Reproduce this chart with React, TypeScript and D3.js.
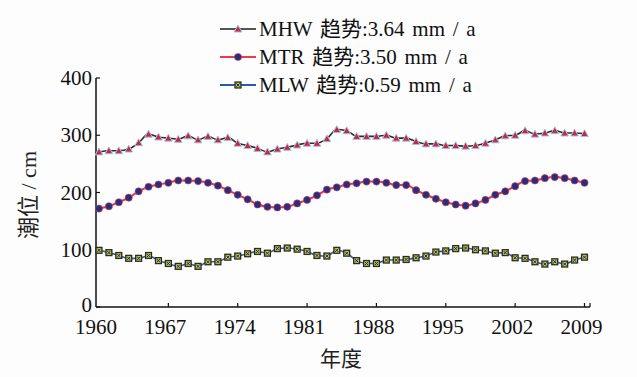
import React from "react";
import * as d3 from "d3";

const years: number[] = d3.range(1960, 2010);

const mhw: number[] = [
  271, 273, 273, 276, 287, 302, 297, 295, 293, 299,
  292, 298, 292, 296, 286, 282, 277, 271, 276, 279,
  283, 286, 286, 294, 310, 308, 298, 298, 298, 300,
  295, 295, 289, 285, 285, 282, 282, 281, 282, 286,
  292, 299, 300, 308, 302, 304, 308, 304, 304, 303,
];

const mtr: number[] = [
  172, 176, 183, 191, 202, 210, 214, 217, 221, 221,
  220, 217, 212, 204, 196, 188, 179, 175, 174, 175,
  181, 187, 195, 205, 209, 214, 216, 219, 219, 217,
  213, 213, 204, 196, 189, 183, 179, 177, 181, 187,
  196, 202, 211, 220, 221, 225, 227, 225, 221, 217,
];

const mlw: number[] = [
  99, 95, 90, 85, 85, 90, 81, 76, 71, 76,
  71, 79, 79, 87, 89, 93, 97, 94, 102, 103,
  101, 97, 90, 89, 99, 94, 81, 76, 76, 82,
  82, 83, 86, 89, 96, 98, 102, 103, 100, 98,
  94, 95, 86, 85, 79, 75, 79, 75, 82, 87,
];

const xTicks: number[] = [1960, 1967, 1974, 1981, 1988, 1995, 2002, 2009];
const yTicks: number[] = [0, 100, 200, 300, 400];

const legendLabels: string[] = [
  "MHW 趋势:3.64 mm / a",
  "MTR 趋势:3.50 mm / a",
  "MLW 趋势:0.59 mm / a",
];

const FONT = "'Liberation Serif', 'Times New Roman', 'Noto Sans CJK SC', serif";

const x = d3.scaleLinear().domain([1960, 2009]).range([99, 584.5]);
const y = d3.scaleLinear().domain([0, 400]).range([307, 78]);

const AX_LEFT = 96;
const AX_RIGHT = 590;

function Triangle({ cx, cy }: { cx: number; cy: number }) {
  const s = 3.8;
  return (
    <path
      d={`M${cx},${cy - s} L${cx + s},${cy + s * 0.8} L${cx - s},${cy + s * 0.8} Z`}
      fill="#c8283c"
      stroke="#9ec3e8"
      strokeWidth={1}
    />
  );
}

function Dot({ cx, cy }: { cx: number; cy: number }) {
  return <circle cx={cx} cy={cy} r={3.6} fill="#26307a" stroke="#d84060" strokeWidth={0.6} />;
}

function Square({ cx, cy }: { cx: number; cy: number }) {
  const s = 3.6;
  return (
    <g>
      <rect x={cx - s} y={cy - s} width={2 * s} height={2 * s} fill="#2b2b1e" />
      <rect x={cx - s + 1.3} y={cy - s + 1.3} width={2 * s - 2.6} height={2 * s - 2.6} fill="#b9c46a" />
      <path
        d={`M${cx - 1.6},${cy - 1.6} L${cx + 1.6},${cy + 1.6} M${cx + 1.6},${cy - 1.6} L${cx - 1.6},${cy + 1.6}`}
        stroke="#2b2b1e"
        strokeWidth={1}
      />
    </g>
  );
}

export default function App() {
  const line = d3
    .line<number>()
    .x((_, i) => x(years[i]))
    .y((d) => y(d))
    .curve(d3.curveMonotoneX);

  const series = [
    { data: mhw, color: "#2d2d2d", width: 1.6, Marker: Triangle, legendColor: "#555555" },
    { data: mtr, color: "#ff2a3a", width: 2, Marker: Dot, legendColor: "#f03848" },
    { data: mlw, color: "#2c5aa8", width: 1.6, Marker: Square, legendColor: "#2c5aa8" },
  ];

  const legendY = [29, 57, 85];

  return (
    <svg
      width={637}
      height={377}
      style={{ position: "absolute", left: 0, top: 0, background: "#fdfdfd" }}
      fontFamily={FONT}
    >
      <rect x={0} y={0} width={637} height={377} fill="#fdfdfd" />

      {/* Legend */}
      {series.map((s, i) => (
        <g key={i}>
          <line x1={220} x2={256} y1={legendY[i]} y2={legendY[i]} stroke={s.legendColor} strokeWidth={2} />
          <s.Marker cx={238} cy={legendY[i]} />
          <text x={259} y={legendY[i] + 7} fontSize={21} wordSpacing={2.5} fill="#111">
            {legendLabels[i]}
          </text>
        </g>
      ))}

      {/* Axes */}
      <line x1={AX_LEFT} x2={AX_LEFT} y1={y(400)} y2={y(0)} stroke="#111" strokeWidth={1.5} />
      <line x1={AX_LEFT} x2={AX_RIGHT} y1={y(0)} y2={y(0)} stroke="#111" strokeWidth={1.5} />
      {yTicks.map((t) => (
        <g key={t}>
          <line x1={AX_LEFT} x2={AX_LEFT + 4} y1={y(t)} y2={y(t)} stroke="#111" strokeWidth={1.2} />
          <text x={AX_LEFT - 4} y={y(t) + (t === 0 ? 5 : 7)} textAnchor="end" fontSize={21} fill="#111">
            {t}
          </text>
        </g>
      ))}
      {xTicks.map((t) => (
        <g key={t}>
          {t !== 1960 && (
            <line x1={x(t)} x2={x(t)} y1={y(0)} y2={y(0) - 4} stroke="#111" strokeWidth={1.2} />
          )}
          <text x={x(t) - 3} y={y(0) + 27} textAnchor="middle" fontSize={21} fill="#111">
            {t}
          </text>
        </g>
      ))}
      <line x1={AX_RIGHT} x2={AX_RIGHT} y1={y(0)} y2={y(0) - 4} stroke="#111" strokeWidth={1.2} />

      {/* Axis titles */}
      <text
        transform={`translate(36,195) rotate(-90)`}
        textAnchor="middle"
        fontSize={22}
        fill="#222"
      >
        潮位 / cm
      </text>
      <text x={341} y={366} textAnchor="middle" fontSize={21} fill="#222" fontFamily="'Noto Sans CJK SC', sans-serif">
        年度
      </text>

      {/* Series */}
      {series.map((s, i) => (
        <g key={i}>
          <path d={line(s.data) || ""} fill="none" stroke={s.color} strokeWidth={s.width} />
          {s.data.map((v, j) => (
            <s.Marker key={j} cx={x(years[j])} cy={y(v)} />
          ))}
        </g>
      ))}
    </svg>
  );
}
